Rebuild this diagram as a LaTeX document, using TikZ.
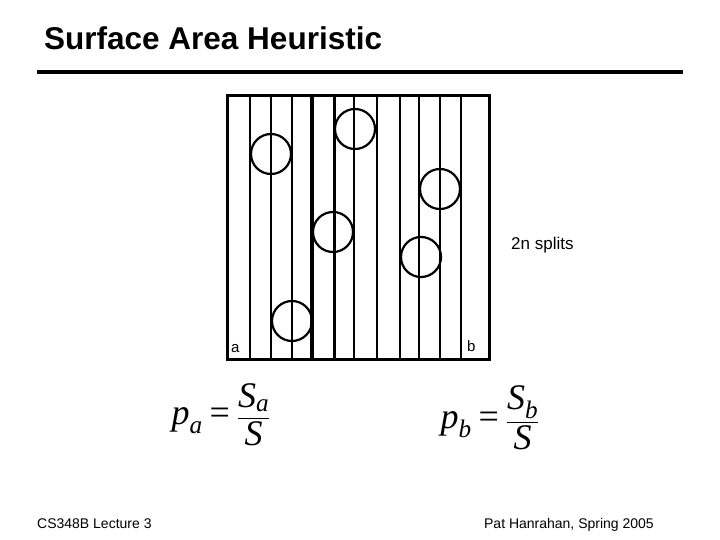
\documentclass[tikz,border=0pt]{standalone}
\usepackage{amsmath}
\usepackage{fontspec}
\setmainfont{Liberation Sans}
\newfontfamily\tms{Liberation Serif}
\newcommand{\ti}[1]{\text{\tms\itshape #1}}
\newcommand{\frm}[1]{\fontsize{36}{38}\selectfont
 $\ti{p}_{\ti{#1}}\;\text{\tms =}\;\dfrac{\ti{S}_{\ti{#1}}}{\ti{S}}$}
\begin{document}
\begin{tikzpicture}[x=1pt,y=-1pt,
  lbl/.style={inner sep=0pt,anchor=base west},
  ball/.style={draw,line width=2.2pt}]
\useasboundingbox (0,0) rectangle (720,540);
\node[lbl,font=\bfseries\fontsize{31.5}{33}\selectfont] (title) at (44,50) {Surface Area Heuristic};
\draw[line width=4pt] (37,72) -- (683,72);
\draw[line width=3pt] (227,96) rectangle (489,359);
\foreach \x in {250,271,292,311,313,354,377,400,419,440,461}
  \draw[line width=1.3pt] (\x,96) -- (\x,359);
\draw[line width=3pt] (334,96) -- (334,359);
\foreach \cx/\cy in {271/154,355/129,333/232,440/189,421/257,292/321}
  \draw[ball] (\cx,\cy) circle (20);
\node[lbl,font=\fontsize{15}{17}\selectfont] (a) at (231,352) {a};
\node[lbl,font=\fontsize{15}{17}\selectfont] (b) at (467,351) {b};
\node[lbl,font=\fontsize{17}{19}\selectfont] (sp) at (511,249) {2n splits};
\node[inner sep=0pt] (pa) at (221,415) {\frm{a}};
\node[inner sep=0pt] (pb) at (490,418) {\frm{b}};
\node[lbl,font=\fontsize{14}{16}\selectfont] (l) at (37,528) {CS348B Lecture 3};
\node[inner sep=0pt,anchor=base east,font=\fontsize{14}{16}\selectfont] (r) at (654,528) {Pat Hanrahan, Spring 2005};
\end{tikzpicture}
\end{document}
